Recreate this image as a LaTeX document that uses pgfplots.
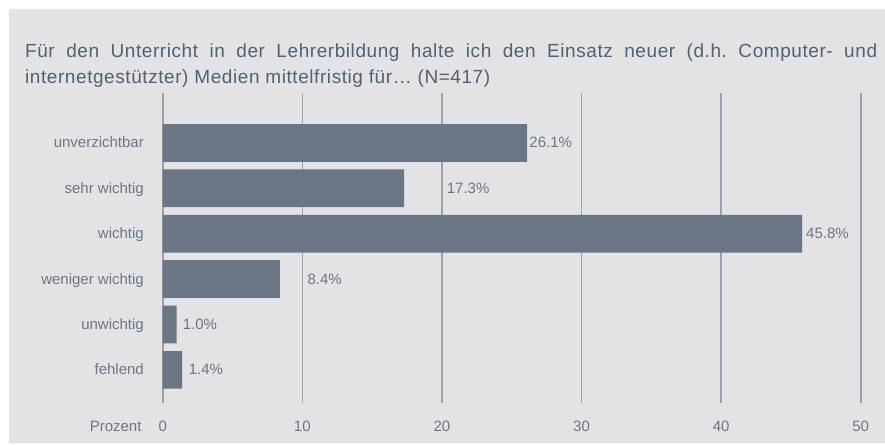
\documentclass[border=0pt]{standalone}
\usepackage{pgfplots}
\pgfplotsset{compat=1.18}
\usepackage{fontspec}
\setmainfont{Liberation Sans}
\newfontfamily\titlefont{Liberation Sans}[LetterSpace=3]
\definecolor{bg}{HTML}{E3E3E5}
\definecolor{barc}{HTML}{6B7684}
\definecolor{gridc}{HTML}{9BA1AD}
\definecolor{txt}{HTML}{6B7785}
\definecolor{ttl}{HTML}{4F6272}
\frenchspacing
\begin{document}
\begin{tikzpicture}[x=1pt,y=1pt]
\fill[white] (0,0) rectangle (885,444);
\fill[bg] (9,1) rectangle (885,435);
\node[anchor=base west, inner sep=0pt, text=ttl, font=\titlefont\fontsize{19}{22}\selectfont] at (25,386.7) {\makebox[852pt][s]{Für den Unterricht in der Lehrerbildung halte ich den Einsatz neuer (d.h. Computer- und}};
\node[anchor=base west, inner sep=0pt, text=ttl, font=\titlefont\fontsize{19}{22}\selectfont] at (25,360.7) {internetgestützter) Medien mittelfristig für… (N=417)};
\begin{axis}[
  at={(162.7pt,41pt)}, anchor=south west,
  scale only axis, width=698pt, height=310pt,
  xmin=0, xmax=50, ymin=-0.73, ymax=6.1,
  xtick={0,10,20,30,40,50},
  ytick={0,1,2,3,4,5},
  yticklabels={fehlend, unwichtig, weniger wichtig, wichtig, sehr wichtig, unverzichtbar},
  axis line style={draw=none},
  major tick length=0pt,
  xmajorgrids, ymajorgrids=false,
  grid style={gridc, line width=1.6pt},
  /pgf/number format/assume math mode=true,
  tick label style={text=txt, font=\fontsize{15}{18}\selectfont, inner sep=0pt},
  xticklabel style={anchor=base, yshift=-28pt},
  yticklabel style={anchor=base east, xshift=-18.7pt, yshift=-5pt},
  clip=false,
]
\addplot[xbar, fill=barc, draw=none, bar width=37.7pt, bar shift=0pt]
  coordinates {(1.4,0) (1.0,1) (8.4,2) (45.8,3) (17.3,4) (26.1,5)};
\addplot[draw=none, mark=none, nodes near coords={\pgfplotspointmeta\%},
  point meta=explicit symbolic,
  every node near coord/.style={anchor=base west, inner sep=0pt, yshift=-5pt, text=txt, font=\fontsize{15}{18}\selectfont}]
  table[meta=lab] {
x y lab
1.86 0 1.4
1.43 1 1.0
10.36 2 8.4
46.08 3 45.8
20.34 4 17.3
26.26 5 26.1
};
\node[anchor=base east, inner sep=0pt, text=txt, font=\fontsize{15}{18}\selectfont, xshift=-21pt, yshift=-28pt] at (axis cs:0,-0.73) {Prozent};
\end{axis}
\end{tikzpicture}
\end{document}
